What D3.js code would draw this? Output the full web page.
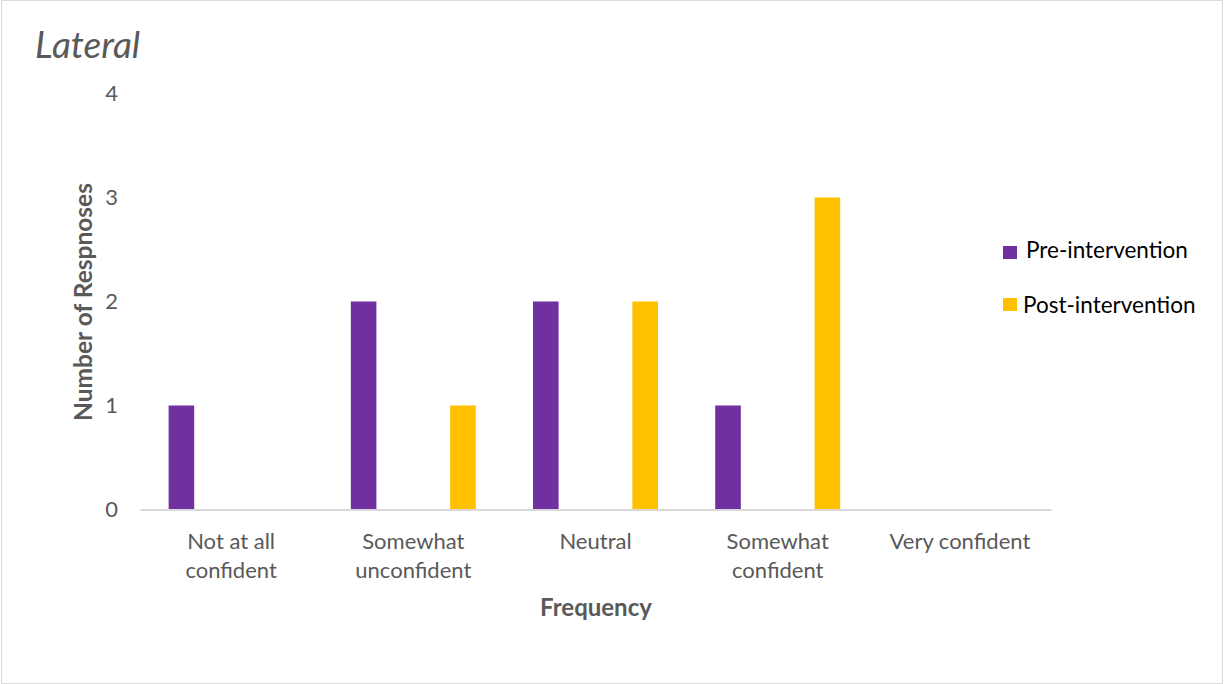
<!DOCTYPE html>
<html lang="en">
<head>
    <meta charset="UTF-8">
    <title>Lateral</title>
    <style>
        body { margin: 0; background: #fff; }
        svg text { font-family: Lato, "Open Sans", sans-serif; }
        .tick text { fill: #595959; font-size: 22px; }
    </style>
</head>
<body>
    <div id="chart"></div>

    <script src="https://d3js.org/d3.v7.min.js"></script>
    <script>
        // chart data
        const categories = ["Not at all confident", "Somewhat unconfident", "Neutral", "Somewhat confident", "Very confident"];
        const categoryLines = [["Not at all", "confident"], ["Somewhat", "unconfident"], ["Neutral"], ["Somewhat", "confident"], ["Very confident"]];
        const seriesNames = ["Pre-intervention", "Post-intervention"];
        const preValues = [1, 2, 2, 1, 0];
        const postValues = [0, 1, 2, 3, 0];
        const yTicks = [0, 1, 2, 3, 4];
        const colors = ["#7030A0", "#FFC000"];

        const width = 1226, height = 684;

        const svg = d3.select("#chart").append("svg")
            .attr("width", width)
            .attr("height", height);

        // outer frame
        svg.append("rect")
            .attr("x", 1.5).attr("y", 0.5)
            .attr("width", width - 5).attr("height", height - 1)
            .attr("fill", "#fff")
            .attr("stroke", "#d9d9d9");

        const x = d3.scaleBand()
            .domain(categories)
            .range([140, 1051]);

        const xSub = d3.scaleBand()
            .domain(seriesNames)
            .range([0, x.bandwidth()])
            .paddingInner(0.7425)
            .paddingOuter(0.288);

        const y = d3.scaleLinear()
            .domain([0, 4])
            .range([509.5, 93.5]);

        // y axis (labels only)
        const yAxis = svg.append("g")
            .attr("transform", "translate(118,0)")
            .call(d3.axisLeft(y).tickValues(yTicks).tickSize(0).tickPadding(0).tickFormat(d3.format("d")));
        yAxis.select(".domain").remove();

        // bars
        const series = [preValues, postValues];
        series.forEach((vals, si) => {
            svg.append("g")
                .selectAll("rect")
                .data(vals)
                .enter().append("rect")
                .attr("x", (d, i) => x(categories[i]) + xSub(seriesNames[si]))
                .attr("y", d => y(d))
                .attr("width", xSub.bandwidth())
                .attr("height", d => y(0) - y(d))
                .attr("fill", colors[si]);
        });

        // x axis
        const xAxis = svg.append("g")
            .attr("transform", `translate(0,${y(0)})`)
            .call(d3.axisBottom(x).tickSize(0).tickFormat(""));
        xAxis.select(".domain").attr("stroke", "#d9d9d9").attr("stroke-width", 2);

        xAxis.selectAll(".tick text").remove();
        xAxis.selectAll(".tick").each(function(d, i) {
            const t = d3.select(this).append("text")
                .attr("text-anchor", "middle")
                .attr("fill", "#595959")
                .style("font-size", "22px");
            categoryLines[i].forEach((line, li) => {
                t.append("tspan")
                    .attr("x", 0)
                    .attr("y", 39.5 + li * 29)
                    .text(line);
            });
        });

        // title
        svg.append("text")
            .attr("x", 35)
            .attr("y", 58)
            .attr("fill", "#595959")
            .style("font-size", "37px")
            .style("font-style", "italic")
            .text("Lateral");

        // axis titles
        svg.append("text")
            .attr("transform", "translate(92,302) rotate(-90)")
            .attr("text-anchor", "middle")
            .attr("fill", "#595959")
            .style("font-size", "24.5px")
            .style("font-weight", "bold")
            .text("Number of Respnoses");

        svg.append("text")
            .attr("x", 596)
            .attr("y", 616)
            .attr("text-anchor", "middle")
            .attr("fill", "#595959")
            .style("font-size", "24px")
            .style("font-weight", "bold")
            .text("Frequency");

        // legend
        const legendPos = [{sx: 1003, sy: 246, tx: 1026, ty: 258}, {sx: 1003, sy: 298, tx: 1023, ty: 313}];
        const legend = svg.append("g").attr("class", "legend");
        seriesNames.forEach((name, i) => {
            const p = legendPos[i];
            legend.append("rect")
                .attr("x", p.sx).attr("y", p.sy)
                .attr("width", 14).attr("height", 13)
                .attr("fill", colors[i]);
            legend.append("text")
                .attr("x", p.tx).attr("y", p.ty)
                .attr("fill", "#000")
                .style("font-size", "22.5px")
                .text(name);
        });
    </script>
</body>
</html>
